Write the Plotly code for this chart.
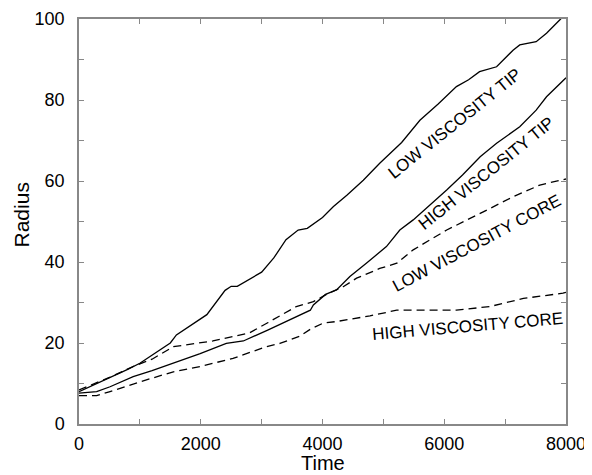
import plotly.graph_objects as go

# Low viscosity tip (solid)
lvt_t = [0, 300, 500, 800, 1000, 1500, 1600, 2000, 2100, 2400, 2500, 2600, 2900, 3000, 3200, 3400,
         3600, 3750, 4000, 4180, 4400, 4670, 4940, 5300, 5600, 5900, 6200, 6400, 6580, 6860, 7130,
         7240, 7510, 7680, 7900, 8000]
lvt_r = [8, 10, 11.5, 13.5, 15, 20, 22, 26, 27, 33, 34, 34, 36.5, 37.5, 41, 45.5,
         47.9, 48.3, 51, 53.7, 56.5, 60.2, 64.4, 69.5, 75, 79, 83.3, 85, 87, 88.2, 92.3,
         93.6, 94.4, 96.5, 99.8, 101.5]

# High viscosity tip (solid)
hvt_t = [0, 290, 510, 890, 1200, 1550, 1990, 2420, 2700, 3100, 3450, 3800, 3850, 4050, 4230,
         4450, 4720, 4940, 5050, 5270, 5490, 6040, 6300, 6590, 6860, 7240, 7510, 7680, 7950, 8000]
hvt_r = [7.6, 8.0, 9.2, 11.7, 13.2, 15.0, 17.4, 19.9, 20.5, 23.2, 25.7, 28.1, 29.4, 32.0, 33.1,
         36.4, 39.7, 42.5, 43.8, 47.9, 50.4, 57.8, 61.5, 66.0, 69.3, 73.4, 77.5, 80.8, 84.9, 85.5]

# Low viscosity core (dashed)
lvc_t = [0, 240, 500, 890, 1200, 1550, 1880, 2200, 2530, 2800, 3100, 3570, 3850, 4050, 4340,
         4560, 4940, 5220, 5490, 6040, 6590, 7130, 7570, 7950, 8000]
lvc_r = [8.4, 9.9, 11.5, 14.2, 16.0, 19.1, 19.9, 20.5, 21.6, 22.5, 25.0, 29.0, 30.2, 31.9, 33.9,
         36.0, 38.4, 39.7, 43.0, 47.9, 52.0, 56.1, 59.0, 60.2, 60.5]

# High viscosity core (dashed)
hvc_t = [0, 290, 510, 1000, 1550, 1990, 2530, 3080, 3300, 3630, 3800, 4010, 4230, 4560, 4780,
         5220, 6200, 6750, 7300, 7950, 8000]
hvc_r = [7.0, 7.0, 8.0, 10.4, 12.9, 14.2, 16.2, 19.1, 19.9, 21.7, 23.4, 24.9, 25.3, 26.1, 26.7,
         28.1, 28.1, 29.0, 31.0, 32.3, 32.5]

labels = ["LOW VISCOSITY TIP", "HIGH VISCOSITY TIP", "LOW VISCOSITY CORE", "HIGH VISCOSITY CORE"]
label_t = [6174, 6690, 6530, 6375]
label_r = [74.3, 61.9, 44.6, 24.0]
label_angle = [-38.7, -38.8, -28.0, -4.9]

x_ticks = [0, 1000, 2000, 3000, 4000, 5000, 6000, 7000, 8000]
x_ticktext = ["0", "", "2000", "", "4000", "", "6000", "", "8000"]
y_ticks = [0, 10, 20, 30, 40, 50, 60, 70, 80, 90, 100]
y_ticktext = ["0", "", "20", "", "40", "", "60", "", "80", "", "100"]

FONT = "Liberation Sans, Arial"

fig = go.Figure()
line_solid = dict(color="black", width=1.3)
line_dash = dict(color="black", width=1.3, dash="8px,5px")
fig.add_trace(go.Scatter(x=lvt_t, y=lvt_r, mode="lines", line=line_solid))
fig.add_trace(go.Scatter(x=hvt_t, y=hvt_r, mode="lines", line=line_solid))
fig.add_trace(go.Scatter(x=lvc_t, y=lvc_r, mode="lines", line=line_dash))
fig.add_trace(go.Scatter(x=hvc_t, y=hvc_r, mode="lines", line=line_dash))

for txt, tx, ry, ang in zip(labels, label_t, label_r, label_angle):
    fig.add_annotation(x=tx, y=ry, text=txt, textangle=ang, showarrow=False,
                       font=dict(family=FONT, size=17, color="black"),
                       xanchor="center", yanchor="middle")

# axis titles
fig.add_annotation(xref="paper", yref="paper", x=0.502, y=-0.097, text="Time", showarrow=False,
                   font=dict(family=FONT, size=20, color="black"), xanchor="center", yanchor="middle")
fig.add_annotation(xref="paper", yref="paper", x=-0.119, y=0.515, text="Radius", showarrow=False,
                   textangle=-90, font=dict(family=FONT, size=21, color="black"),
                   xanchor="center", yanchor="middle")

axis_common = dict(showgrid=False, zeroline=False, showline=True, linecolor="#888888", linewidth=1.5,
                   mirror="ticks", ticks="inside", ticklen=5, tickcolor="#888888", tickwidth=1,
                   automargin=False,
                   tickfont=dict(family=FONT, size=18, color="black"))

fig.update_xaxes(range=[0, 8000], tickmode="array", tickvals=x_ticks, ticktext=x_ticktext,
                 ticklabelstandoff=3, **axis_common)
fig.update_yaxes(range=[0, 100], tickmode="array", tickvals=y_ticks, ticktext=y_ticktext,
                 ticklabelstandoff=9, **axis_common)

# page body has an 8px default margin, so the figure is offset by 8px
fig.update_layout(width=584, height=467, margin=dict(l=71, r=26, t=11, b=51),
                  plot_bgcolor="white", paper_bgcolor="white", showlegend=False)

fig.write_html("out.html")
